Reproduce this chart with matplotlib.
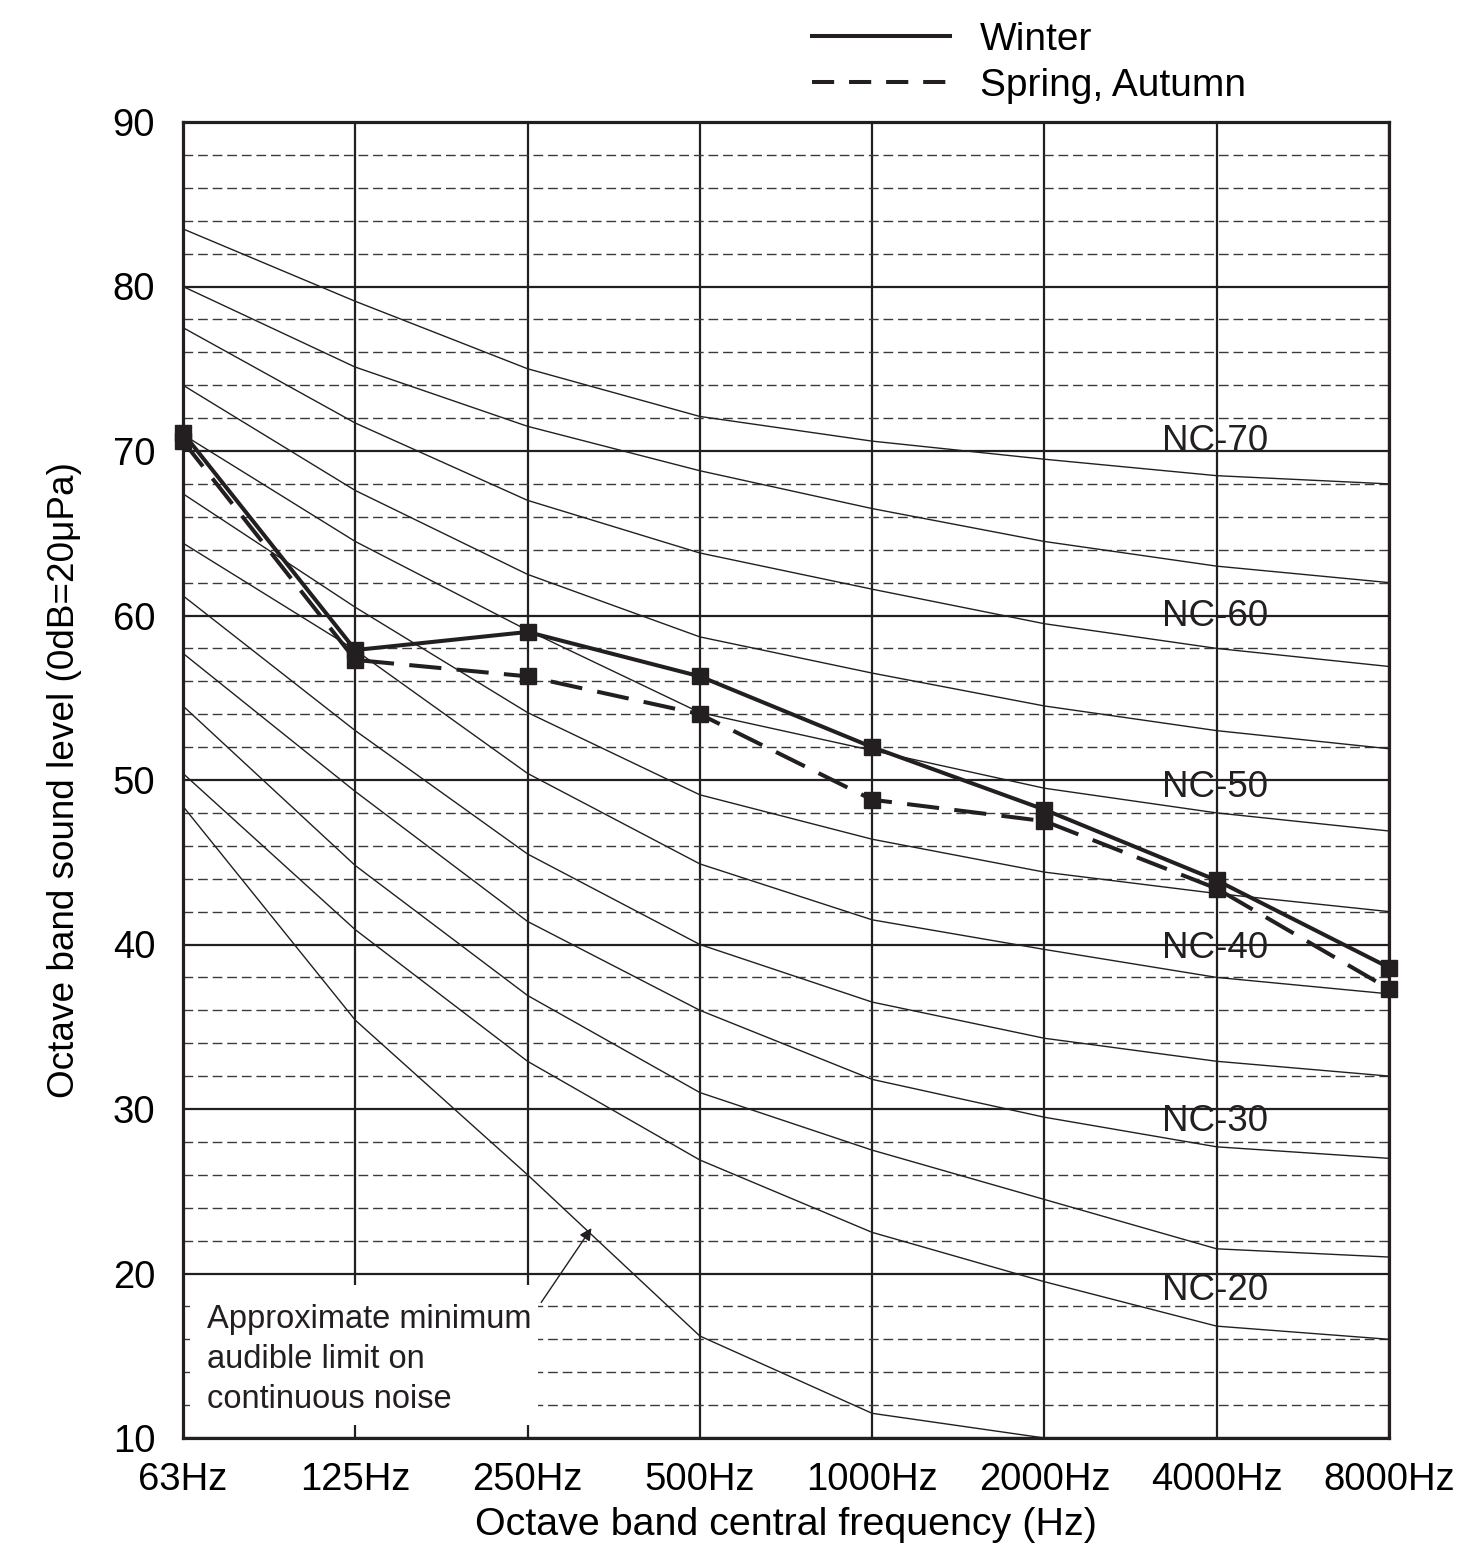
import matplotlib
matplotlib.use('Agg')
import matplotlib.pyplot as plt
from matplotlib.lines import Line2D
from matplotlib.patches import Rectangle

plt.rcParams['font.family'] = ['Liberation Sans', 'DejaVu Sans']

INK = '#231f20'

# octave bands (equally spaced categories)
bands = ['63Hz', '125Hz', '250Hz', '500Hz', '1000Hz', '2000Hz', '4000Hz', '8000Hz']

# NC curves
nc70 = [83.5, 79.1, 75.0, 72.1, 70.6, 69.5, 68.5, 68.0]
nc65 = [80.0, 75.1, 71.5, 68.8, 66.5, 64.5, 63.0, 62.0]
nc60 = [77.5, 71.7, 67.0, 63.8, 61.6, 59.5, 58.0, 56.9]
nc55 = [74.0, 67.6, 62.5, 58.7, 56.5, 54.5, 53.0, 51.9]
nc50 = [71.0, 64.5, 59.1, 54.1, 51.8, 49.5, 48.0, 46.9]
nc45 = [67.4, 60.5, 54.1, 49.1, 46.4, 44.4, 43.1, 42.0]
nc40 = [64.4, 57.9, 50.4, 44.9, 41.5, 39.7, 38.0, 37.0]
nc35 = [61.2, 53.0, 45.5, 40.0, 36.5, 34.3, 32.9, 32.0]
nc30 = [57.7, 49.3, 41.4, 36.0, 31.8, 29.5, 27.7, 27.0]
nc25 = [54.5, 44.8, 36.9, 31.0, 27.5, 24.5, 21.5, 21.0]
nc20 = [50.4, 40.9, 32.9, 26.9, 22.5, 19.5, 16.8, 16.0]
nc_curves = [nc70, nc65, nc60, nc55, nc50, nc45, nc40, nc35, nc30, nc25, nc20]

# approximate minimum audible limit (63Hz .. 2000Hz)
audible_limit = [48.4, 35.4, 26.0, 16.2, 11.5, 10.0]

# measured spectra
winter = [71.1, 57.9, 59.0, 56.3, 52.0, 48.2, 43.9, 38.6]
spring_autumn = [70.6, 57.3, 56.3, 54.0, 48.8, 47.5, 43.4, 37.3]

nc_labels = ['NC-70', 'NC-60', 'NC-50', 'NC-40', 'NC-30', 'NC-20']
nc_label_y = [70.55, 59.95, 49.55, 39.75, 29.25, 18.95]

fig = plt.figure(figsize=(14.64, 15.58), dpi=100)
ax = fig.add_axes([183/1464, 1 - 1438/1558, (1389 - 183)/1464, (1438 - 122)/1558])

x = list(range(len(bands)))
ax.set_xlim(0, len(bands) - 1)
ax.set_ylim(10, 90)

# grid
ax.set_xticks(x)
ax.set_xticklabels(bands, fontsize=27.5)
ax.set_yticks(range(10, 91, 10))
ax.set_yticks([v for v in range(12, 90, 2) if v % 10], minor=True)
ax.tick_params(which='both', length=0)
ax.tick_params(axis='y', labelsize=27.5, pad=20)
ax.tick_params(axis='x', pad=17)
ax.set_axisbelow(True)
ax.grid(which='major', color=INK, lw=1.6)
ax.grid(which='minor', axis='y', color='#3a3a3a', lw=1.0, ls=(0, (7, 3.5)))
for s in ax.spines.values():
    s.set_linewidth(2.3)
    s.set_color(INK)

# NC family
for c in nc_curves:
    ax.plot(x, c, color=INK, lw=1.0, zorder=2)
ax.plot(x[:len(audible_limit)], audible_limit, color=INK, lw=1.0, zorder=2)

for lab, yy in zip(nc_labels, nc_label_y):
    ax.text(5.68, yy, lab, fontsize=26.5, color=INK, va='center', ha='left', zorder=3)

# annotation box for the audible limit note
ax.add_patch(Rectangle((0.04, 10.8), 2.02, 8.5, facecolor='white', edgecolor='none', zorder=1))
ax.text(0.14, 18.15, 'Approximate minimum\naudible limit on\ncontinuous noise',
        fontsize=23.5, color=INK, va='top', ha='left', linespacing=1.37, zorder=3)
ax.annotate('', xy=(2.38, 22.9), xytext=(2.07, 18.1),
            arrowprops=dict(arrowstyle='-|>', color=INK, lw=1.0, mutation_scale=18))

# measured lines
ax.plot(x, winter, color=INK, lw=2.9, marker='s', ms=11, clip_on=False, zorder=5)
ax.plot(x, spring_autumn, color=INK, lw=2.9, ls=(0, (8, 3.8)), marker='s', ms=11,
        clip_on=False, zorder=5)

ax.set_xlabel('Octave band central frequency (Hz)', fontsize=28.4, labelpad=7)
ax.set_ylabel('Octave band sound level (0dB=20\u03bcPa)', fontsize=26.6, labelpad=22)

handles = [Line2D([], [], color=INK, lw=2.9),
           Line2D([], [], color=INK, lw=2.9, ls=(0, (5.5, 3.7)))]
fig.legend(handles, ['Winter', 'Spring, Autumn'], loc='upper left',
           bbox_to_anchor=(812/1464, 0.986), frameon=False, fontsize=28,
           handlelength=3.55, handletextpad=0.77, labelspacing=0.26,
           borderpad=0, borderaxespad=0)

fig.savefig('out.png', dpi=100)
